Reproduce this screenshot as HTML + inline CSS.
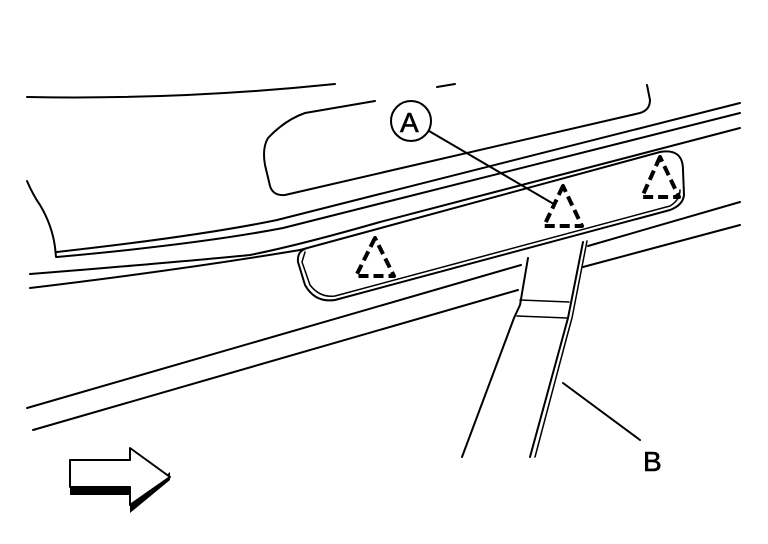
<!DOCTYPE html>
<html><head><style>body{margin:0;background:#fff}svg{display:block}</style></head><body>
<svg width="768" height="544" viewBox="0 0 768 544" xmlns="http://www.w3.org/2000/svg" fill="none" stroke="#000" stroke-width="2" stroke-linecap="round" stroke-linejoin="round">
<path d="M27,97 Q180,100 335,84"/>
<path d="M437,87 L455,84"/>
<path d="M375,101 L305,113 Q285,120 268,138 Q262,148 265,165 L270,186 Q273,196 285,195 L640,113 Q650,110 650,100 L647,85"/>
<path d="M27,181 Q33,195 40,205 Q52,225 55,247 L56,257"/>
<path d="M57,252 Q200,236 277,220 L740,103"/>
<path d="M57,257 Q200,244 283,228 L740,113"/>
<path d="M30,274 Q180,262 250,255 Q300,245 380,222 L740,128"/>
<path d="M30,288 Q180,270 300,250"/>
<path d="M300,250 L660,152 Q683,148 683,170 L684,195 Q683,205 670,210 L335,300 Q315,303 305,285 L298,262 Q297,252 305,249"/>
<path d="M305,252 L302,262 L310,285 Q320,298 335,296 L670,206 Q680,200 680,190" stroke-width="1.5"/>
<path d="M27,408 L521,265"/>
<path d="M588,246 L740,202"/>
<path d="M33,430 L518,290"/>
<path d="M583,267 L740,225"/>
<path d="M528,258 L520,305 L514,318 L462,457"/>
<path d="M583,242 L568,318 L562,340 L530,457"/>
<path d="M587,241 L572,318 L566,340 L535,457" stroke-width="1.5"/>
<path d="M520,300 L569,302 M517,316 L567,318" stroke-width="1.5"/>
<circle cx="411" cy="121" r="20"/>
<path d="M429,131 L552,203"/>
<path d="M563,383 L640,440"/>
<g stroke-width="4" stroke-dasharray="10,5" stroke-linecap="butt">
<path d="M375,238 L356,276 L394,276 Z"/>
<path d="M563,186 L544,226 L582,226 Z"/>
<path d="M660,157 L642,197 L679,197 Z"/>
</g>
<text x="400" y="132" font-family="Liberation Sans, sans-serif" font-size="28" fill="#000" stroke="#000" stroke-width="0.6">A</text>
<text x="643" y="471" font-family="Liberation Sans, sans-serif" font-size="28" fill="#000" stroke="#000" stroke-width="0.6">B</text>
<path d="M70,487 L130,487 L130,505 L170,472 L170,480 L130,513 L130,495 L70,495 Z" fill="#000" stroke="none"/>
<path d="M70,460 L130,460 L130,448 L170,477 L130,505 L130,487 L70,487 Z" fill="#fff"/>
</svg>
</body></html>
